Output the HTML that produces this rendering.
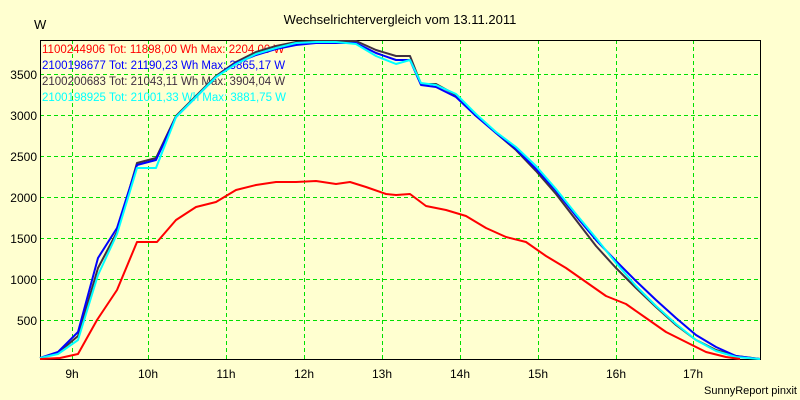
<!DOCTYPE html>
<html><head><style>
body{margin:0;background:#ffffd0;}
svg{display:block;font-family:"Liberation Sans",sans-serif;}
</style></head><body>
<svg width="800" height="400" viewBox="0 0 800 400">
<rect width="800" height="400" fill="#ffffd0"/>
<text x="400" y="24" font-size="13" text-anchor="middle" fill="#000">Wechselrichtervergleich vom 13.11.2011</text>
<text x="34" y="29" font-size="13">W</text>
<g stroke="#00e000" stroke-dasharray="4,3" stroke-width="1">
<line x1="40" x2="760" y1="320.5" y2="320.5"/><line x1="40" x2="760" y1="279.5" y2="279.5"/>
<line x1="40" x2="760" y1="238.5" y2="238.5"/><line x1="40" x2="760" y1="197.5" y2="197.5"/>
<line x1="40" x2="760" y1="156.5" y2="156.5"/><line x1="40" x2="760" y1="115.5" y2="115.5"/>
<line x1="40" x2="760" y1="74.5" y2="74.5"/>
<line y1="40" y2="359" x1="72.5" x2="72.5"/><line y1="40" y2="359" x1="148.5" x2="148.5"/>
<line y1="40" y2="359" x1="226.5" x2="226.5"/><line y1="40" y2="359" x1="304.5" x2="304.5"/>
<line y1="40" y2="359" x1="382.5" x2="382.5"/><line y1="40" y2="359" x1="460.5" x2="460.5"/>
<line y1="40" y2="359" x1="538.5" x2="538.5"/><line y1="40" y2="359" x1="616.5" x2="616.5"/>
<line y1="40" y2="359" x1="693.5" x2="693.5"/>
</g>
<polyline fill="none" stroke="#000" stroke-width="1" points="40.5,359 40.5,40.5 760.5,40.5 760.5,359.5 40,359.5"/>
<g font-size="12" text-anchor="end">
<text x="37" y="325">500</text><text x="37" y="284">1000</text><text x="37" y="243">1500</text>
<text x="37" y="202">2000</text><text x="37" y="161">2500</text><text x="37" y="120">3000</text><text x="37" y="79">3500</text>
</g>
<g font-size="12" text-anchor="middle">
<text x="72" y="378">9h</text><text x="148" y="378">10h</text><text x="226" y="378">11h</text><text x="304" y="378">12h</text>
<text x="382" y="378">13h</text><text x="460" y="378">14h</text><text x="538" y="378">15h</text><text x="616" y="378">16h</text><text x="693" y="378">17h</text>
</g>
<text x="797" y="394" font-size="11" text-anchor="end">SunnyReport pinxit</text>
<g font-size="11.5">
<text x="42" y="53" fill="#ff0000">1100244906 Tot: 11898,00 Wh Max: 2204,00 W</text>
<text x="42" y="69" fill="#0000ff">2100198677 Tot: 21190,23 Wh Max: 3865,17 W</text>
<text x="42" y="85" fill="#403040">2100200683 Tot: 21043,11 Wh Max: 3904,04 W</text>
<text x="42" y="101" fill="#00ffff">2100198925 Tot: 21001,33 Wh Max: 3881,75 W</text>
</g>
<g fill="none" stroke-width="2" stroke-linejoin="round">
<polyline stroke="#403040" points="40,358 58,353 78,336 98,268 117,232 137,163 156,158 176,116 196,96 216,76 236,62 256,52 276,46 296,42 316,41 336,41 356,41 376,50 396,56 410,56 421,84 436,84 456,95 476,115 496,133 516,150 536,171 556,194 576,220 596,246 616,268 636,288 656,307 676,325 696,340 716,350 736,356 760,359"/>
<polyline stroke="#0000ff" points="40,358 58,352 78,332 98,258 117,228 137,165 156,160 176,117 196,97 216,77 236,63 256,55 276,49 296,45 316,43 336,43 356,43 376,53 396,60 410,60 421,85 436,87 456,97 476,116 496,133 516,149 536,169 556,191 576,216 596,240 616,261 636,281 656,300 676,318 696,335 716,347 736,356 760,359"/>
<polyline stroke="#00ffff" points="40,358 58,354 78,340 98,275 117,234 137,168 156,168 176,117 196,97 216,77 236,64 256,54 276,48 296,43 316,42 336,42 356,44 376,56 396,64 410,60 421,83 436,85 456,94 476,114 496,132 516,147 536,166 556,189 576,214 596,238 616,263 636,286 656,306 676,324 696,340 716,351 736,357 760,359"/>
<polyline stroke="#ff0000" points="40,359 60,358 78,354 97,320 117,290 137,242 157,242 176,220 196,207 216,202 236,190 256,185 276,182 296,182 316,181 336,184 350,182 366,187 386,194 396,195 410,194 426,206 446,210 466,216 486,228 506,237 526,242 546,256 566,268 586,282 606,296 626,304 646,318 666,332 686,342 706,352 726,357 740,359"/>
</g>
</svg>
</body></html>
